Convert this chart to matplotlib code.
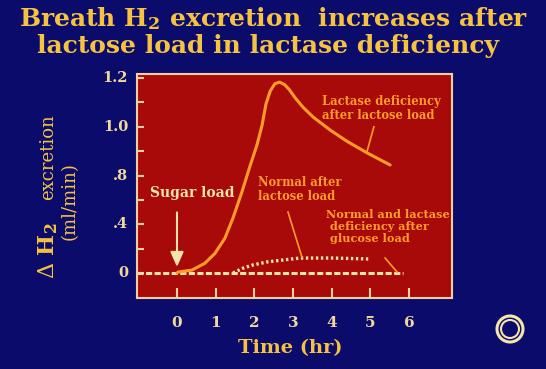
import numpy as np
import matplotlib
matplotlib.use("Agg")
import matplotlib.pyplot as plt
from matplotlib.patches import Circle

# Данные (часы, мл/мин в шкале оси)
lactase_x = [0.0, 0.03, 0.39, 0.72, 0.98, 1.24, 1.45, 1.68, 1.89, 2.07, 2.20, 2.30,
             2.41, 2.53, 2.65, 2.78, 2.90, 3.05, 3.26, 3.52, 3.96, 4.40, 4.91, 5.51]
lactase_y = [0.0, 0.006, 0.018, 0.06, 0.12, 0.215, 0.34, 0.50, 0.66, 0.79, 0.91, 1.04,
             1.12, 1.165, 1.175, 1.16, 1.13, 1.08, 1.02, 0.96, 0.88, 0.81, 0.74, 0.665]

normal_x = [1.45, 1.71, 1.97, 2.33, 2.74, 3.18, 4.03, 4.99]
normal_y = [0.0, 0.03, 0.05, 0.068, 0.08, 0.092, 0.092, 0.086]

glucose_x = [-1.03, 5.85]
glucose_y = [0.0, 0.0]

x_ticks = [0, 1, 2, 3, 4, 5, 6]
y_ticks = [0, 0.15, 0.3, 0.45, 0.6, 0.75, 0.9, 1.05, 1.2]
y_label_pos = [0, 0.3, 0.6, 0.9, 1.2]
y_label_txt = ['0', '.4', '.8', '1.0', '1.2']

navy = '#0b0b6c'
red = '#a80a0a'
orange = '#ff9c2a'
cream = '#f6e4a8'
gold = '#f5c242'

plt.rcParams['mathtext.fontset'] = 'dejavuserif'
serif = 'DejaVu Serif'

fig = plt.figure(figsize=(5.46, 3.69), dpi=100, facecolor=navy)
ax = fig.add_axes([137/546, 1 - 298/369, 315/546, 224/369])
ax.set_facecolor(red)

ax.plot(glucose_x, glucose_y, color=cream, lw=2.2, ls=(0, (2.0, 0.8)), solid_capstyle='butt')
ax.plot(normal_x, normal_y, color=cream, lw=2.4, ls=(0, (0.7, 0.8)))
ax.plot(lactase_x, lactase_y, color=orange, lw=2.2, solid_capstyle='round',
        solid_joinstyle='round')

ax.set_xlim(-1.034, 7.11)
ax.set_ylim(-0.154, 1.225)

for s in ax.spines.values():
    s.set_color('#f0d0a0')
    s.set_linewidth(1.5)

ax.set_xticks(x_ticks)
ax.set_xticklabels([str(t) for t in x_ticks])
ax.set_yticks(y_ticks)
ax.set_yticklabels([''] * len(y_ticks))
ax.tick_params(axis='x', direction='in', length=7, width=1.5, color='#f0d0a0',
               pad=13, labelcolor='#f2d89a', labelsize=11)
ax.tick_params(axis='y', direction='in', length=5, width=1.5, color='#f0d0a0')
for t in ax.get_xticklabels():
    t.set_fontfamily(serif)
    t.set_fontweight('bold')
# подписи оси y стоят только на части делений
for yp, txt in zip(y_label_pos, y_label_txt):
    ax.text(-1.034 - 0.23, yp, txt, ha='right', va='center', color='#f2d89a',
            fontsize=10.5, fontweight='bold', family=serif)

# стрелка "Sugar load"
ax.annotate('', xy=(0, 0.02), xytext=(0, 0.39),
            arrowprops=dict(arrowstyle='-|>,head_length=0.9,head_width=0.4',
                            color=cream, lw=1.5))
ax.text(-0.70, 0.49, 'Sugar load', color=cream, fontsize=10, fontweight='bold',
        family=serif, va='center', ha='left')

ax.text(3.75, 1.095, 'Lactase deficiency\nafter lactose load', color=orange,
        fontsize=8.3, fontweight='bold', family=serif, va='top', ha='left', linespacing=1.1)
ax.plot([5.09, 4.91], [0.90, 0.745], color=orange, lw=1.2)

ax.text(2.09, 0.60, 'Normal after\nlactose load', color=orange,
        fontsize=8.3, fontweight='bold', family=serif, va='top', ha='left', linespacing=1.1)
ax.plot([2.87, 3.23], [0.375, 0.098], color=orange, lw=1.2)

ax.text(3.85, 0.394, 'Normal and lactase\n deficiency after\n glucose load', color=orange,
        fontsize=8.1, fontweight='bold', family=serif, va='top', ha='left', linespacing=1.1)
ax.plot([5.38, 5.69], [0.092, 0.006], color=orange, lw=1.2)

# заголовок
fig.text(0.502, 1 - 26/369, r'Breath H$_{\mathbf{2}}$ excretion  increases after',
         ha='center', va='baseline', color=gold, fontsize=18, fontweight='bold', family=serif)
fig.text(0.49, 1 - 53/369, 'lactose load in lactase deficiency',
         ha='center', va='baseline', color=gold, fontsize=18, fontweight='bold', family=serif)

# подпись оси y
fig.text(48/546, 1 - 251/369, r'$\Delta$ H$_{\mathbf{2}}$', rotation=90, ha='center', va='center',
         color=gold, fontsize=16, fontweight='bold', family=serif)
fig.text(48/546, 1 - 157/369, 'excretion', rotation=90, ha='center', va='center',
         color=gold, fontsize=13, family=serif)
fig.text(70/546, 1 - 201/369, '(ml/min)', rotation=90, ha='center', va='center',
         color=gold, fontsize=13, family=serif)

fig.text(290/546, 1 - 348/369, 'Time (hr)', ha='center', va='center',
         color=gold, fontsize=14, fontweight='bold', family=serif)

# логотип в углу
for r, w in [(13, 2.2), (9, 1.5)]:
    fig.patches.append(Circle((510, 369 - 329), r, transform=None, fill=False,
                              ec=cream, lw=w))

fig.savefig('out.png', dpi=100, facecolor=navy)
